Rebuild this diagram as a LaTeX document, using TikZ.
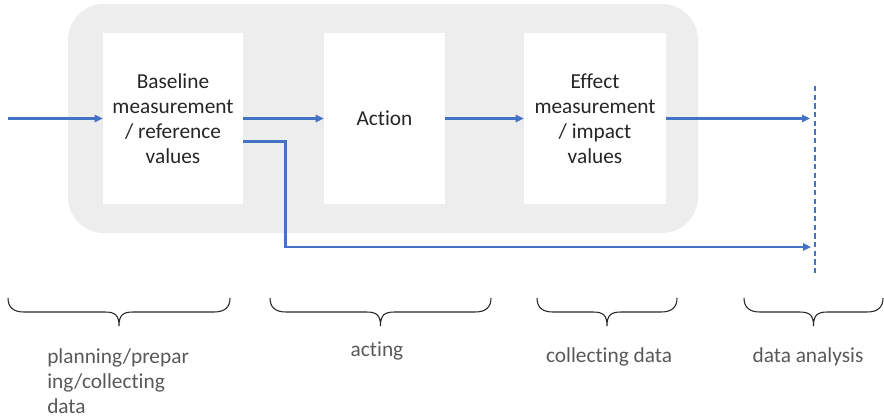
\documentclass[tikz,border=0pt]{standalone}
\usepackage{fontspec}
\setmainfont{Carlito}[Ligatures={NoCommon}]
\usetikzlibrary{arrows.meta}
\definecolor{bgray}{HTML}{EDEDED}
\definecolor{lblue}{HTML}{4472C4}
\definecolor{tgray}{HTML}{595959}
\definecolor{bblack}{HTML}{262626}
\tikzset{
  stepbox/.style={fill=white, draw=none, inner sep=0pt, align=center, minimum height=128.25pt,
    font=\fontsize{16}{18.75}\selectfont, text=bblack},
  flow/.style={draw=lblue, line width=2pt, -{Triangle[length=6pt,width=5.5pt]}},
  phase/.style={text=tgray, inner sep=0pt, font=\fontsize{16}{18.4}\selectfont},
  bracestyle/.style={draw=bblack, line width=0.8pt},
}
\newcommand\bracefrom[2]{%
  \draw[bracestyle] (#1,298) .. controls (#1,307) and ({#1+5},312) .. ({#1+16},312)
    -- ({(#1+#2)/2-14},312) .. controls ({(#1+#2)/2-4},312) and ({(#1+#2)/2},315) .. ({(#1+#2)/2},326)
    .. controls ({(#1+#2)/2},315) and ({(#1+#2)/2+4},312) .. ({(#1+#2)/2+14},312)
    -- ({#2-16},312) .. controls ({#2-5},312) and (#2,307) .. (#2,298);}
\begin{document}
\begin{tikzpicture}[x=0.75pt,y=-0.75pt]
\useasboundingbox (0,0) rectangle (884,418);
\fill[bgray, rounded corners=27pt] (68,4) rectangle (698,233);
\node[stepbox, minimum width=105pt] (b1) at (173,118.5) {Baseline\\measurement\\/ reference\\values};
\node[stepbox, minimum width=90.75pt] (b2) at (384.5,118.5) {Action};
\node[stepbox, minimum width=106.5pt] (b3) at (595,118.5) {Effect\\measurement\\/ impact\\values};
\coordinate (in) at (8,118.5);
\coordinate (out1) at (810,118.5);
\coordinate (out2) at (811,247);
\coordinate (dtop) at (815,86);
\coordinate (dbot) at (815,274);
\draw[flow] (in) -- (b1.west);
\draw[flow] (b1.east) -- (b2.west);
\draw[flow] (b2.east) -- (b3.west);
\draw[flow] (b3.east) -- (out1);
\draw[flow] ([yshift=-17pt]b1.east) -- ++(42,0) |- (out2);
\draw[lblue, line width=1.1pt, dash pattern=on 4pt off 2.5pt] (dtop) -- (dbot);
\bracefrom{8}{230}
\bracefrom{270}{491}
\bracefrom{537}{677}
\bracefrom{744}{883}
\node[phase, anchor=base west, align=left] (l1) at (47,413) {planning/prepar\\ing/collecting\\data};
\node[phase, anchor=base] (l2) at (377,356) {acting};
\node[phase, anchor=base] (l3) at (609,362) {collecting data};
\node[phase, anchor=base] (l4) at (808,362) {data analysis};
\end{tikzpicture}
\end{document}
